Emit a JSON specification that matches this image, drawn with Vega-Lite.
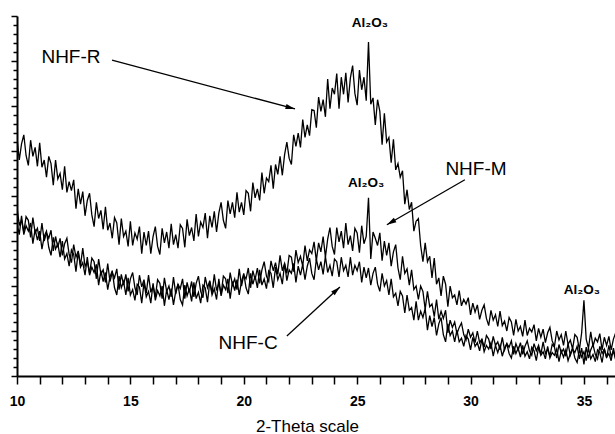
{
  "$schema": "https://vega.github.io/schema/vega-lite/v6.json",
  "width": 598,
  "height": 360,
  "autosize": {"type": "none"},
  "padding": {"left": 17, "top": 16, "right": 0, "bottom": 58},
  "background": "white",
  "config": {"view": {"stroke": null}, "font": "Liberation Sans"},
  "datasets": {
    "R": [
{"x":10.0,"y":26.5},{"x":10.1,"y":24.0},{"x":10.2,"y":25.8},{"x":10.3,"y":26.8},{"x":10.4,"y":24.5},{"x":10.5,"y":23.4},{"x":10.6,"y":26.2},{"x":10.7,"y":24.4},{"x":10.8,"y":25.4},{"x":10.9,"y":23.3},
{"x":11.0,"y":25.9},{"x":11.1,"y":23.2},{"x":11.2,"y":24.0},{"x":11.3,"y":22.1},{"x":11.4,"y":24.4},{"x":11.5,"y":23.6},{"x":11.6,"y":21.2},{"x":11.7,"y":24.0},{"x":11.8,"y":21.9},{"x":11.9,"y":22.5},
{"x":12.0,"y":20.7},{"x":12.1,"y":23.3},{"x":12.2,"y":20.4},{"x":12.3,"y":21.6},{"x":12.4,"y":20.6},{"x":12.5,"y":21.8},{"x":12.6,"y":18.6},{"x":12.7,"y":20.8},{"x":12.8,"y":19.1},{"x":12.9,"y":20.5},
{"x":13.0,"y":17.8},{"x":13.1,"y":19.5},{"x":13.2,"y":20.3},{"x":13.3,"y":17.9},{"x":13.4,"y":16.6},{"x":13.5,"y":19.3},{"x":13.6,"y":17.5},{"x":13.7,"y":18.4},{"x":13.8,"y":16.3},{"x":13.9,"y":18.8},
{"x":14.0,"y":16.2},{"x":14.1,"y":17.0},{"x":14.2,"y":15.3},{"x":14.3,"y":17.6},{"x":14.4,"y":17.0},{"x":14.5,"y":14.6},{"x":14.6,"y":17.5},{"x":14.7,"y":15.5},{"x":14.8,"y":16.1},{"x":14.9,"y":14.4},
{"x":15.0,"y":17.2},{"x":15.1,"y":14.5},{"x":15.2,"y":15.9},{"x":15.3,"y":15.2},{"x":15.4,"y":16.6},{"x":15.5,"y":13.6},{"x":15.6,"y":16.0},{"x":15.7,"y":14.5},{"x":15.8,"y":16.1},{"x":15.9,"y":13.6},
{"x":16.0,"y":15.5},{"x":16.1,"y":16.6},{"x":16.2,"y":14.4},{"x":16.3,"y":13.5},{"x":16.4,"y":16.4},{"x":16.5,"y":14.8},{"x":16.6,"y":16.0},{"x":16.7,"y":14.2},{"x":16.8,"y":16.9},{"x":16.9,"y":14.6},
{"x":17.0,"y":15.7},{"x":17.1,"y":14.2},{"x":17.2,"y":16.8},{"x":17.3,"y":16.4},{"x":17.4,"y":14.3},{"x":17.5,"y":17.4},{"x":17.6,"y":15.6},{"x":17.7,"y":16.5},{"x":17.8,"y":15.0},{"x":17.9,"y":18.0},
{"x":18.0,"y":15.5},{"x":18.1,"y":17.1},{"x":18.2,"y":16.5},{"x":18.3,"y":18.1},{"x":18.4,"y":15.3},{"x":18.5,"y":17.8},{"x":18.6,"y":16.5},{"x":18.7,"y":18.3},{"x":18.8,"y":16.0},{"x":18.9,"y":18.1},
{"x":19.0,"y":19.3},{"x":19.1,"y":17.3},{"x":19.2,"y":16.4},{"x":19.3,"y":19.5},{"x":19.4,"y":18.0},{"x":19.5,"y":19.3},{"x":19.6,"y":17.6},{"x":19.7,"y":20.4},{"x":19.8,"y":18.2},{"x":19.9,"y":19.3},
{"x":20.0,"y":17.9},{"x":20.1,"y":20.6},{"x":20.2,"y":20.3},{"x":20.3,"y":18.3},{"x":20.4,"y":21.5},{"x":20.5,"y":19.8},{"x":20.6,"y":20.8},{"x":20.7,"y":19.5},{"x":20.8,"y":22.6},{"x":20.9,"y":20.3},
{"x":21.0,"y":22.0},{"x":21.1,"y":21.6},{"x":21.2,"y":23.4},{"x":21.3,"y":20.8},{"x":21.4,"y":23.5},{"x":21.5,"y":22.4},{"x":21.6,"y":24.4},{"x":21.7,"y":22.3},{"x":21.8,"y":24.6},{"x":21.9,"y":26.0},
{"x":22.0,"y":24.2},{"x":22.1,"y":23.5},{"x":22.2,"y":26.8},{"x":22.3,"y":25.5},{"x":22.4,"y":27.0},{"x":22.5,"y":25.4},{"x":22.6,"y":28.5},{"x":22.7,"y":26.5},{"x":22.8,"y":27.9},{"x":22.9,"y":26.7},
{"x":23.0,"y":29.6},{"x":23.1,"y":29.5},{"x":23.2,"y":27.6},{"x":23.3,"y":31.0},{"x":23.4,"y":29.4},{"x":23.5,"y":30.7},{"x":23.6,"y":28.8},{"x":23.7,"y":33.0},{"x":23.8,"y":29.7},{"x":23.9,"y":32.0},
{"x":24.0,"y":31.3},{"x":24.1,"y":33.6},{"x":24.2,"y":29.7},{"x":24.3,"y":33.2},{"x":24.4,"y":31.3},{"x":24.5,"y":33.7},{"x":24.6,"y":30.4},{"x":24.7,"y":33.1},{"x":24.8,"y":34.5},{"x":24.9,"y":31.4},
{"x":25.0,"y":30.1},{"x":25.1,"y":34.0},{"x":25.2,"y":31.8},{"x":25.3,"y":33.2},{"x":25.4,"y":30.6},{"x":25.5,"y":37.1},{"x":25.6,"y":30.2},{"x":25.7,"y":30.9},{"x":25.8,"y":27.9},{"x":25.9,"y":30.7},
{"x":26.0,"y":29.4},{"x":26.1,"y":25.7},{"x":26.2,"y":29.2},{"x":26.3,"y":26.0},{"x":26.4,"y":26.5},{"x":26.5,"y":23.7},{"x":26.6,"y":26.3},{"x":26.7,"y":22.9},{"x":26.8,"y":23.6},{"x":26.9,"y":22.1},
{"x":27.0,"y":22.8},{"x":27.1,"y":19.1},{"x":27.2,"y":20.7},{"x":27.3,"y":18.5},{"x":27.4,"y":19.3},{"x":27.5,"y":16.1},{"x":27.6,"y":17.2},{"x":27.7,"y":17.5},{"x":27.8,"y":14.5},{"x":27.9,"y":12.7},
{"x":28.0,"y":14.8},{"x":28.1,"y":12.7},{"x":28.2,"y":13.3},{"x":28.3,"y":10.9},{"x":28.4,"y":13.1},{"x":28.5,"y":10.2},{"x":28.6,"y":10.9},{"x":28.7,"y":8.9},{"x":28.8,"y":11.1},{"x":28.9,"y":10.2},
{"x":29.0,"y":7.7},{"x":29.1,"y":10.0},{"x":29.2,"y":8.7},{"x":29.3,"y":9.0},{"x":29.4,"y":7.9},{"x":29.5,"y":9.5},{"x":29.6,"y":7.8},{"x":29.7,"y":8.5},{"x":29.8,"y":8.0},{"x":29.9,"y":8.7},
{"x":30.0,"y":6.8},{"x":30.1,"y":8.1},{"x":30.2,"y":7.1},{"x":30.3,"y":7.9},{"x":30.4,"y":6.3},{"x":30.5,"y":7.3},{"x":30.6,"y":7.9},{"x":30.7,"y":6.4},{"x":30.8,"y":5.6},{"x":30.9,"y":7.3},
{"x":31.0,"y":6.2},{"x":31.1,"y":6.8},{"x":31.2,"y":5.5},{"x":31.3,"y":7.2},{"x":31.4,"y":5.6},{"x":31.5,"y":6.1},{"x":31.6,"y":5.0},{"x":31.7,"y":6.5},{"x":31.8,"y":6.0},{"x":31.9,"y":4.5},
{"x":32.0,"y":6.3},{"x":32.1,"y":5.0},{"x":32.2,"y":5.5},{"x":32.3,"y":4.4},{"x":32.4,"y":6.2},{"x":32.5,"y":4.5},{"x":32.6,"y":5.3},{"x":32.7,"y":4.9},{"x":32.8,"y":5.7},{"x":32.9,"y":3.9},
{"x":33.0,"y":5.3},{"x":33.1,"y":4.3},{"x":33.2,"y":5.2},{"x":33.3,"y":3.7},{"x":33.4,"y":4.8},{"x":33.5,"y":5.4},{"x":33.6,"y":3.9},{"x":33.7,"y":3.3},{"x":33.8,"y":5.0},{"x":33.9,"y":4.0},
{"x":34.0,"y":4.6},{"x":34.1,"y":3.4},{"x":34.2,"y":5.0},{"x":34.3,"y":3.5},{"x":34.4,"y":4.0},{"x":34.5,"y":3.0},{"x":34.6,"y":4.6},{"x":34.7,"y":4.3},{"x":34.8,"y":2.9},{"x":34.9,"y":4.8},
{"x":35.0,"y":8.4},{"x":35.1,"y":4.1},{"x":35.2,"y":3.1},{"x":35.3,"y":4.9},{"x":35.4,"y":3.3},{"x":35.5,"y":4.2},{"x":35.6,"y":3.8},{"x":35.7,"y":4.7},{"x":35.8,"y":2.9},{"x":35.9,"y":4.3},
{"x":36.0,"y":3.4},{"x":36.1,"y":4.4},{"x":36.2,"y":2.9},{"x":36.3,"y":4.1},{"x":36.4,"y":4.8}
    ],
    "M": [
{"x":10.0,"y":18.7},{"x":10.1,"y":16.8},{"x":10.2,"y":17.3},{"x":10.3,"y":16.0},{"x":10.4,"y":17.7},{"x":10.5,"y":17.3},{"x":10.6,"y":15.4},{"x":10.7,"y":17.6},{"x":10.8,"y":15.9},{"x":10.9,"y":16.4},
{"x":11.0,"y":15.0},{"x":11.1,"y":17.0},{"x":11.2,"y":15.0},{"x":11.3,"y":15.9},{"x":11.4,"y":15.3},{"x":11.5,"y":16.2},{"x":11.6,"y":13.9},{"x":11.7,"y":15.5},{"x":11.8,"y":14.3},{"x":11.9,"y":15.3},
{"x":12.0,"y":13.4},{"x":12.1,"y":14.7},{"x":12.2,"y":15.3},{"x":12.3,"y":13.5},{"x":12.4,"y":12.6},{"x":12.5,"y":14.6},{"x":12.6,"y":13.2},{"x":12.7,"y":13.9},{"x":12.8,"y":12.3},{"x":12.9,"y":14.2},
{"x":13.0,"y":12.2},{"x":13.1,"y":12.7},{"x":13.2,"y":11.4},{"x":13.3,"y":13.1},{"x":13.4,"y":12.7},{"x":13.5,"y":10.8},{"x":13.6,"y":13.0},{"x":13.7,"y":11.3},{"x":13.8,"y":11.8},{"x":13.9,"y":10.4},
{"x":14.0,"y":12.5},{"x":14.1,"y":10.5},{"x":14.2,"y":11.5},{"x":14.3,"y":10.9},{"x":14.4,"y":11.9},{"x":14.5,"y":9.6},{"x":14.6,"y":11.3},{"x":14.7,"y":10.1},{"x":14.8,"y":11.3},{"x":14.9,"y":9.4},
{"x":15.0,"y":10.8},{"x":15.1,"y":11.5},{"x":15.2,"y":9.8},{"x":15.3,"y":9.0},{"x":15.4,"y":11.2},{"x":15.5,"y":9.9},{"x":15.6,"y":10.7},{"x":15.7,"y":9.2},{"x":15.8,"y":11.2},{"x":15.9,"y":9.3},
{"x":16.0,"y":10.0},{"x":16.1,"y":8.8},{"x":16.2,"y":10.7},{"x":16.3,"y":10.3},{"x":16.4,"y":8.6},{"x":16.5,"y":10.9},{"x":16.6,"y":9.4},{"x":16.7,"y":10.0},{"x":16.8,"y":8.8},{"x":16.9,"y":11.0},
{"x":17.0,"y":9.1},{"x":17.1,"y":10.2},{"x":17.2,"y":9.7},{"x":17.3,"y":10.8},{"x":17.4,"y":8.6},{"x":17.5,"y":10.4},{"x":17.6,"y":9.3},{"x":17.7,"y":10.5},{"x":17.8,"y":8.8},{"x":17.9,"y":10.3},
{"x":18.0,"y":11.1},{"x":18.1,"y":9.4},{"x":18.2,"y":8.7},{"x":18.3,"y":11.0},{"x":18.4,"y":9.8},{"x":18.5,"y":10.6},{"x":18.6,"y":9.2},{"x":18.7,"y":11.3},{"x":18.8,"y":9.5},{"x":18.9,"y":10.3},
{"x":19.0,"y":9.1},{"x":19.1,"y":11.1},{"x":19.2,"y":10.8},{"x":19.3,"y":9.2},{"x":19.4,"y":11.5},{"x":19.5,"y":10.1},{"x":19.6,"y":10.8},{"x":19.7,"y":9.6},{"x":19.8,"y":11.9},{"x":19.9,"y":10.0},
{"x":20.0,"y":11.2},{"x":20.1,"y":10.8},{"x":20.2,"y":12.0},{"x":20.3,"y":9.8},{"x":20.4,"y":11.7},{"x":20.5,"y":10.7},{"x":20.6,"y":12.0},{"x":20.7,"y":10.3},{"x":20.8,"y":11.8},{"x":20.9,"y":12.7},
{"x":21.0,"y":11.1},{"x":21.1,"y":10.5},{"x":21.2,"y":12.8},{"x":21.3,"y":11.7},{"x":21.4,"y":12.6},{"x":21.5,"y":11.3},{"x":21.6,"y":13.4},{"x":21.7,"y":11.7},{"x":21.8,"y":12.5},{"x":21.9,"y":11.4},
{"x":22.0,"y":13.4},{"x":22.1,"y":13.2},{"x":22.2,"y":11.6},{"x":22.3,"y":14.0},{"x":22.4,"y":12.6},{"x":22.5,"y":13.3},{"x":22.6,"y":12.2},{"x":22.7,"y":14.5},{"x":22.8,"y":12.8},{"x":22.9,"y":14.0},
{"x":23.0,"y":13.6},{"x":23.1,"y":14.9},{"x":23.2,"y":12.8},{"x":23.3,"y":14.8},{"x":23.4,"y":13.8},{"x":23.5,"y":15.5},{"x":23.6,"y":13.2},{"x":23.7,"y":15.2},{"x":23.8,"y":16.5},{"x":23.9,"y":14.4},
{"x":24.0,"y":13.5},{"x":24.1,"y":16.5},{"x":24.2,"y":14.9},{"x":24.3,"y":16.1},{"x":24.4,"y":14.2},{"x":24.5,"y":17.0},{"x":24.6,"y":14.6},{"x":24.7,"y":15.6},{"x":24.8,"y":13.9},{"x":24.9,"y":16.4},
{"x":25.0,"y":15.9},{"x":25.1,"y":13.7},{"x":25.2,"y":16.7},{"x":25.3,"y":14.7},{"x":25.4,"y":15.5},{"x":25.5,"y":19.8},{"x":25.6,"y":13.0},{"x":25.7,"y":16.0},{"x":25.8,"y":15.3},{"x":25.9,"y":14.5},
{"x":26.0,"y":15.9},{"x":26.1,"y":12.8},{"x":26.2,"y":15.0},{"x":26.3,"y":13.4},{"x":26.4,"y":14.8},{"x":26.5,"y":12.2},{"x":26.6,"y":13.8},{"x":26.7,"y":14.6},{"x":26.8,"y":12.0},{"x":26.9,"y":10.7},
{"x":27.0,"y":13.3},{"x":27.1,"y":11.4},{"x":27.2,"y":11.9},{"x":27.3,"y":10.1},{"x":27.4,"y":11.8},{"x":27.5,"y":9.6},{"x":27.6,"y":10.0},{"x":27.7,"y":8.5},{"x":27.8,"y":10.0},{"x":27.9,"y":9.4},
{"x":28.0,"y":7.4},{"x":28.1,"y":9.4},{"x":28.2,"y":7.7},{"x":28.3,"y":8.0},{"x":28.4,"y":6.6},{"x":28.5,"y":8.5},{"x":28.6,"y":6.3},{"x":28.7,"y":7.2},{"x":28.8,"y":6.4},{"x":28.9,"y":7.3},
{"x":29.0,"y":4.8},{"x":29.1,"y":6.2},{"x":29.2,"y":5.4},{"x":29.3,"y":6.0},{"x":29.4,"y":4.7},{"x":29.5,"y":5.4},{"x":29.6,"y":5.9},{"x":29.7,"y":4.6},{"x":29.8,"y":4.0},{"x":29.9,"y":5.2},
{"x":30.0,"y":4.3},{"x":30.1,"y":4.8},{"x":30.2,"y":3.7},{"x":30.3,"y":5.0},{"x":30.4,"y":3.7},{"x":30.5,"y":4.1},{"x":30.6,"y":3.2},{"x":30.7,"y":4.5},{"x":30.8,"y":4.1},{"x":30.9,"y":3.0},
{"x":31.0,"y":4.4},{"x":31.1,"y":3.4},{"x":31.2,"y":3.8},{"x":31.3,"y":2.9},{"x":31.4,"y":4.3},{"x":31.5,"y":2.9},{"x":31.6,"y":3.6},{"x":31.7,"y":3.2},{"x":31.8,"y":3.9},{"x":31.9,"y":2.4},
{"x":32.0,"y":3.6},{"x":32.1,"y":2.9},{"x":32.2,"y":3.7},{"x":32.3,"y":2.4},{"x":32.4,"y":3.3},{"x":32.5,"y":3.9},{"x":32.6,"y":2.8},{"x":32.7,"y":2.3},{"x":32.8,"y":3.6},{"x":32.9,"y":2.8},
{"x":33.0,"y":3.4},{"x":33.1,"y":2.4},{"x":33.2,"y":3.8},{"x":33.3,"y":2.5},{"x":33.4,"y":3.0},{"x":33.5,"y":2.2},{"x":33.6,"y":3.5},{"x":33.7,"y":3.2},{"x":33.8,"y":2.0},{"x":33.9,"y":3.5},
{"x":34.0,"y":2.6},{"x":34.1,"y":3.0},{"x":34.2,"y":2.2},{"x":34.3,"y":3.6},{"x":34.4,"y":2.3},{"x":34.5,"y":3.0},{"x":34.6,"y":2.6},{"x":34.7,"y":3.3},{"x":34.8,"y":1.9},{"x":34.9,"y":3.1},
{"x":35.0,"y":1.3},{"x":35.1,"y":3.2},{"x":35.2,"y":2.0},{"x":35.3,"y":2.9},{"x":35.4,"y":3.5},{"x":35.5,"y":2.4},{"x":35.6,"y":1.9},{"x":35.7,"y":3.3},{"x":35.8,"y":2.5},{"x":35.9,"y":3.0},
{"x":36.0,"y":2.0},{"x":36.1,"y":3.4},{"x":36.2,"y":2.2},{"x":36.3,"y":2.7},{"x":36.4,"y":1.9}
    ],
    "C": [
{"x":10.0,"y":17.0},{"x":10.1,"y":15.7},{"x":10.2,"y":17.8},{"x":10.3,"y":15.7},{"x":10.4,"y":16.7},{"x":10.5,"y":16.1},{"x":10.6,"y":17.0},{"x":10.7,"y":14.7},{"x":10.8,"y":16.3},{"x":10.9,"y":15.1},
{"x":11.0,"y":16.1},{"x":11.1,"y":14.1},{"x":11.2,"y":15.5},{"x":11.3,"y":16.1},{"x":11.4,"y":14.3},{"x":11.5,"y":13.4},{"x":11.6,"y":15.4},{"x":11.7,"y":14.1},{"x":11.8,"y":14.7},{"x":11.9,"y":13.2},
{"x":12.0,"y":15.0},{"x":12.1,"y":13.0},{"x":12.2,"y":13.6},{"x":12.3,"y":12.2},{"x":12.4,"y":14.0},{"x":12.5,"y":13.5},{"x":12.6,"y":11.6},{"x":12.7,"y":13.8},{"x":12.8,"y":12.1},{"x":12.9,"y":12.6},
{"x":13.0,"y":11.2},{"x":13.1,"y":13.2},{"x":13.2,"y":11.2},{"x":13.3,"y":12.1},{"x":13.4,"y":11.5},{"x":13.5,"y":12.4},{"x":13.6,"y":10.1},{"x":13.7,"y":11.7},{"x":13.8,"y":10.5},{"x":13.9,"y":11.5},
{"x":14.0,"y":9.6},{"x":14.1,"y":11.0},{"x":14.2,"y":11.7},{"x":14.3,"y":9.8},{"x":14.4,"y":9.0},{"x":14.5,"y":11.1},{"x":14.6,"y":9.8},{"x":14.7,"y":10.5},{"x":14.8,"y":9.0},{"x":14.9,"y":10.9},
{"x":15.0,"y":9.0},{"x":15.1,"y":9.6},{"x":15.2,"y":8.4},{"x":15.3,"y":10.2},{"x":15.4,"y":9.9},{"x":15.5,"y":8.1},{"x":15.6,"y":10.4},{"x":15.7,"y":8.8},{"x":15.8,"y":9.4},{"x":15.9,"y":8.1},
{"x":16.0,"y":10.3},{"x":16.1,"y":8.4},{"x":16.2,"y":9.5},{"x":16.3,"y":8.9},{"x":16.4,"y":10.0},{"x":16.5,"y":7.8},{"x":16.6,"y":9.6},{"x":16.7,"y":8.5},{"x":16.8,"y":9.7},{"x":16.9,"y":7.9},
{"x":17.0,"y":9.4},{"x":17.1,"y":10.2},{"x":17.2,"y":8.5},{"x":17.3,"y":7.9},{"x":17.4,"y":10.1},{"x":17.5,"y":8.9},{"x":17.6,"y":9.7},{"x":17.7,"y":8.3},{"x":17.8,"y":10.4},{"x":17.9,"y":8.6},
{"x":18.0,"y":9.3},{"x":18.1,"y":8.1},{"x":18.2,"y":10.1},{"x":18.3,"y":9.8},{"x":18.4,"y":8.2},{"x":18.5,"y":10.5},{"x":18.6,"y":9.0},{"x":18.7,"y":9.7},{"x":18.8,"y":8.5},{"x":18.9,"y":10.8},
{"x":19.0,"y":8.9},{"x":19.1,"y":10.1},{"x":19.2,"y":9.6},{"x":19.3,"y":10.8},{"x":19.4,"y":8.6},{"x":19.5,"y":10.5},{"x":19.6,"y":9.5},{"x":19.7,"y":10.7},{"x":19.8,"y":9.0},{"x":19.9,"y":10.5},
{"x":20.0,"y":11.4},{"x":20.1,"y":9.8},{"x":20.2,"y":9.1},{"x":20.3,"y":11.4},{"x":20.4,"y":10.2},{"x":20.5,"y":11.1},{"x":20.6,"y":9.8},{"x":20.7,"y":11.8},{"x":20.8,"y":10.1},{"x":20.9,"y":10.8},
{"x":21.0,"y":9.7},{"x":21.1,"y":11.7},{"x":21.2,"y":11.4},{"x":21.3,"y":9.8},{"x":21.4,"y":12.1},{"x":21.5,"y":10.7},{"x":21.6,"y":11.4},{"x":21.7,"y":10.2},{"x":21.8,"y":12.5},{"x":21.9,"y":10.6},
{"x":22.0,"y":11.8},{"x":22.1,"y":11.4},{"x":22.2,"y":12.5},{"x":22.3,"y":10.4},{"x":22.4,"y":12.2},{"x":22.5,"y":11.2},{"x":22.6,"y":12.4},{"x":22.7,"y":10.7},{"x":22.8,"y":12.2},{"x":22.9,"y":13.1},
{"x":23.0,"y":11.4},{"x":23.1,"y":10.7},{"x":23.2,"y":13.0},{"x":23.3,"y":11.8},{"x":23.4,"y":12.7},{"x":23.5,"y":11.3},{"x":23.6,"y":13.3},{"x":23.7,"y":11.5},{"x":23.8,"y":12.3},{"x":23.9,"y":11.1},
{"x":24.0,"y":13.0},{"x":24.1,"y":12.7},{"x":24.2,"y":11.0},{"x":24.3,"y":13.2},{"x":24.4,"y":11.7},{"x":24.5,"y":12.3},{"x":24.6,"y":11.0},{"x":24.7,"y":13.2},{"x":24.8,"y":11.2},{"x":24.9,"y":12.3},
{"x":25.0,"y":11.7},{"x":25.1,"y":12.7},{"x":25.2,"y":10.4},{"x":25.3,"y":12.1},{"x":25.4,"y":10.9},{"x":25.5,"y":12.0},{"x":25.6,"y":10.1},{"x":25.7,"y":11.4},{"x":25.8,"y":12.1},{"x":25.9,"y":10.2},
{"x":26.0,"y":9.4},{"x":26.1,"y":11.4},{"x":26.2,"y":10.0},{"x":26.3,"y":10.6},{"x":26.4,"y":9.0},{"x":26.5,"y":10.8},{"x":26.6,"y":8.8},{"x":26.7,"y":9.2},{"x":26.8,"y":7.8},{"x":26.9,"y":9.4},
{"x":27.0,"y":8.9},{"x":27.1,"y":7.0},{"x":27.2,"y":9.0},{"x":27.3,"y":7.3},{"x":27.4,"y":7.6},{"x":27.5,"y":6.2},{"x":27.6,"y":8.3},{"x":27.7,"y":6.2},{"x":27.8,"y":7.2},{"x":27.9,"y":6.5},
{"x":28.0,"y":7.5},{"x":28.1,"y":5.1},{"x":28.2,"y":6.7},{"x":28.3,"y":5.5},{"x":28.4,"y":6.5},{"x":28.5,"y":4.5},{"x":28.6,"y":5.8},{"x":28.7,"y":6.5},{"x":28.8,"y":4.6},{"x":28.9,"y":3.8},
{"x":29.0,"y":5.8},{"x":29.1,"y":4.5},{"x":29.2,"y":5.0},{"x":29.3,"y":3.8},{"x":29.4,"y":5.1},{"x":29.5,"y":3.8},{"x":29.6,"y":4.2},{"x":29.7,"y":3.3},{"x":29.8,"y":4.5},{"x":29.9,"y":4.1},
{"x":30.0,"y":2.9},{"x":30.1,"y":4.3},{"x":30.2,"y":3.3},{"x":30.3,"y":3.7},{"x":30.4,"y":2.8},{"x":30.5,"y":4.1},{"x":30.6,"y":2.7},{"x":30.7,"y":3.4},{"x":30.8,"y":3.0},{"x":30.9,"y":3.7},
{"x":31.0,"y":2.2},{"x":31.1,"y":3.4},{"x":31.2,"y":2.6},{"x":31.3,"y":3.4},{"x":31.4,"y":2.2},{"x":31.5,"y":3.1},{"x":31.6,"y":3.6},{"x":31.7,"y":2.5},{"x":31.8,"y":2.0},{"x":31.9,"y":3.3},
{"x":32.0,"y":2.5},{"x":32.1,"y":3.1},{"x":32.2,"y":2.1},{"x":32.3,"y":3.4},{"x":32.4,"y":2.2},{"x":32.5,"y":2.7},{"x":32.6,"y":1.9},{"x":32.7,"y":3.2},{"x":32.8,"y":2.8},{"x":32.9,"y":1.7},
{"x":33.0,"y":3.2},{"x":33.1,"y":2.3},{"x":33.2,"y":2.7},{"x":33.3,"y":1.9},{"x":33.4,"y":3.3},{"x":33.5,"y":2.0},{"x":33.6,"y":2.6},{"x":33.7,"y":2.3},{"x":33.8,"y":3.0},{"x":33.9,"y":1.6},
{"x":34.0,"y":2.8},{"x":34.1,"y":2.1},{"x":34.2,"y":2.9},{"x":34.3,"y":1.7},{"x":34.4,"y":2.5},{"x":34.5,"y":3.1},{"x":34.6,"y":2.0},{"x":34.7,"y":1.5},{"x":34.8,"y":2.9},{"x":34.9,"y":2.1},
{"x":35.0,"y":2.7},{"x":35.1,"y":1.7},{"x":35.2,"y":3.1},{"x":35.3,"y":1.9},{"x":35.4,"y":2.4},{"x":35.5,"y":1.6},{"x":35.6,"y":2.9},{"x":35.7,"y":2.6},{"x":35.8,"y":1.5},{"x":35.9,"y":3.0},
{"x":36.0,"y":2.1},{"x":36.1,"y":2.5},{"x":36.2,"y":1.7},{"x":36.3,"y":3.1},{"x":36.4,"y":1.8}
    ],
    "names": [
      {"x": 12.38, "y": 35.4, "text": "NHF-R"},
      {"x": 30.24, "y": 23.0, "text": "NHF-M"},
      {"x": 20.19, "y": 3.7, "text": "NHF-C"}
    ],
    "peaks": [
      {"x": 25.56, "y": 39.2, "text": "Al₂O₃"},
      {"x": 25.39, "y": 21.4, "text": "Al₂O₃"},
      {"x": 34.91, "y": 9.6, "text": "Al₂O₃"}
    ],
    "arrows": [
      {"label": "NHF-R", "x": 14.19, "y": 35.1, "tx": 22.26, "ty": 29.67},
      {"label": "NHF-M", "x": 29.75, "y": 21.8, "tx": 26.31, "ty": 16.8},
      {"label": "NHF-C", "x": 21.9, "y": 4.44, "tx": 24.24, "ty": 9.9}
    ]
  },
  "layer": [
    {
      "data": {"name": "R"},
      "mark": {"type": "line", "stroke": "black", "strokeWidth": 1.3, "clip": true},
      "encoding": {
        "x": {
          "field": "x", "type": "quantitative",
          "scale": {"domain": [10, 36.37], "nice": false, "zero": false},
          "axis": {
            "values": [10,10.5,11,11.5,12,12.5,13,13.5,14,14.5,15,15.5,16,16.5,17,17.5,18,18.5,19,19.5,20,20.5,21,21.5,22,22.5,23,23.5,24,24.5,25,25.5,26,26.5,27,27.5,28,28.5,29,29.5,30,30.5,31,31.5,32,32.5,33,33.5,34,34.5,35,35.5,36],
            "tickCount": 500,
            "format": "d",
            "labelExpr": "datum.value % 5 === 0 ? datum.label : ''",
            "labelOverlap": false,
            "labelFlush": false,
            "labelFont": "Liberation Sans",
            "labelFontWeight": "bold",
            "labelFontSize": 14,
            "labelColor": "black",
            "labelPadding": 10,
            "tickColor": "black",
            "tickWidth": 1.5,
            "tickSize": {"condition": {"test": "datum.value % 1 === 0", "value": 8}, "value": 6},
            "domainColor": "black",
            "domainWidth": 2,
            "grid": false,
            "title": "2-Theta scale",
            "titleFont": "Liberation Sans",
            "titleFontSize": 17,
            "titleFontWeight": "normal",
            "titleColor": "black",
            "titleAlign": "center",
            "titleBaseline": "alphabetic",
            "titleX": 290,
            "titleY": 55
          }
        },
        "y": {
          "field": "y", "type": "quantitative",
          "scale": {"domain": [0, 40], "nice": false},
          "axis": {
            "values": [0,1,2,3,4,5,6,7,8,9,10,11,12,13,14,15,16,17,18,19,20,21,22,23,24,25,26,27,28,29,30,31,32,33,34,35,36,37,38,39,40],
            "tickCount": 500,
            "labels": false,
            "title": null,
            "grid": false,
            "tickColor": "black",
            "tickWidth": 1.5,
            "tickSize": {"condition": {"test": "datum.value % 5 === 0", "value": 6}, "value": 4},
            "domainColor": "black",
            "domainWidth": 2
          }
        }
      }
    },
    {
      "data": {"name": "M"},
      "mark": {"type": "line", "stroke": "black", "strokeWidth": 1.3, "clip": true},
      "encoding": {
        "x": {"field": "x", "type": "quantitative"},
        "y": {"field": "y", "type": "quantitative"}
      }
    },
    {
      "data": {"name": "C"},
      "mark": {"type": "line", "stroke": "black", "strokeWidth": 1.3, "clip": true},
      "encoding": {
        "x": {"field": "x", "type": "quantitative"},
        "y": {"field": "y", "type": "quantitative"}
      }
    },
    {
      "data": {"name": "arrows"},
      "mark": {"type": "rule", "stroke": "black", "strokeWidth": 1.3},
      "encoding": {
        "x": {"field": "x", "type": "quantitative"},
        "y": {"field": "y", "type": "quantitative"},
        "x2": {"field": "tx"},
        "y2": {"field": "ty"}
      }
    },
    {
      "data": {"name": "arrows"},
      "transform": [{"filter": "datum.label === 'NHF-R'"}],
      "mark": {"type": "point", "shape": "M0,0L0.3,1.1L-0.3,1.1Z", "filled": true, "color": "black", "opacity": 1, "size": 300, "angle": 105},
      "encoding": {
        "x": {"field": "tx", "type": "quantitative"},
        "y": {"field": "ty", "type": "quantitative"}
      }
    },
    {
      "data": {"name": "arrows"},
      "transform": [{"filter": "datum.label === 'NHF-M'"}],
      "mark": {"type": "point", "shape": "M0,0L0.3,1.1L-0.3,1.1Z", "filled": true, "color": "black", "opacity": 1, "size": 300, "angle": 240},
      "encoding": {
        "x": {"field": "tx", "type": "quantitative"},
        "y": {"field": "ty", "type": "quantitative"}
      }
    },
    {
      "data": {"name": "arrows"},
      "transform": [{"filter": "datum.label === 'NHF-C'"}],
      "mark": {"type": "point", "shape": "M0,0L0.3,1.1L-0.3,1.1Z", "filled": true, "color": "black", "opacity": 1, "size": 300, "angle": 47},
      "encoding": {
        "x": {"field": "tx", "type": "quantitative"},
        "y": {"field": "ty", "type": "quantitative"}
      }
    },
    {
      "data": {"name": "names"},
      "mark": {"type": "text", "font": "Liberation Sans", "fontSize": 19, "color": "black", "align": "center", "baseline": "middle"},
      "encoding": {
        "x": {"field": "x", "type": "quantitative"},
        "y": {"field": "y", "type": "quantitative"},
        "text": {"field": "text"}
      }
    },
    {
      "data": {"name": "peaks"},
      "mark": {"type": "text", "font": "Liberation Sans", "fontSize": 13.5, "fontWeight": "bold", "color": "black", "align": "center", "baseline": "middle"},
      "encoding": {
        "x": {"field": "x", "type": "quantitative"},
        "y": {"field": "y", "type": "quantitative"},
        "text": {"field": "text"}
      }
    }
  ]
}
